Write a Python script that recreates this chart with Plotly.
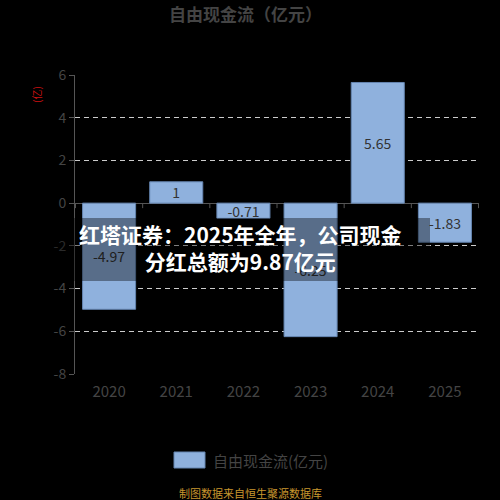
import plotly.graph_objects as go

years = ["2020", "2021", "2022", "2023", "2024", "2025"]
fcf = [-4.97, 1, -0.71, -6.25, 5.65, -1.83]
labels = ["-4.97", "1", "-0.71", "-6.25", "5.65", "-1.83"]
y_ticks = [6, 4, 2, 0, -2, -4, -6, -8]

FONT = "Noto Sans CJK SC"
BAR = "#8FB1DD"
EDGE = "#6585B0"

fig = go.Figure()
fig.add_trace(go.Bar(
    x=years, y=fcf, text=labels, textposition="inside",
    insidetextanchor="middle", constraintext="none", textangle=0,
    textfont=dict(family=FONT, size=14, color="#333333"),
    marker=dict(color=BAR, line=dict(color=EDGE, width=1)),
    name="自由现金流(亿元)", showlegend=False, hoverinfo="skip",
))

L, R, T, B = 75, 21, 75, 126
W = H = 500
pw, ph = W - L - R, H - T - B

def px(xp):
    return (xp - L) / pw

def py(yp):
    return (H - B - yp) / ph

shapes = []
# axis line at zero with boundary ticks
for i in range(len(years) + 1):
    shapes.append(dict(type="line", xref="x", yref="y", x0=i - 0.5, x1=i - 0.5,
                       ysizemode="pixel", yanchor=0, y0=0, y1=-5,
                       line=dict(color="#555555", width=1)))
# overlay band
shapes.append(dict(type="rect", xref="paper", yref="paper", x0=px(50), x1=px(430),
                   y0=py(281), y1=py(218), fillcolor="rgba(0,0,0,0.38)",
                   line=dict(width=0), layer="above"))
# legend swatch
shapes.append(dict(type="rect", xref="paper", yref="paper", x0=px(174), x1=px(205),
                   y0=py(468), y1=py(452), fillcolor=BAR,
                   line=dict(color=EDGE, width=1), layer="above"))

annotations = [
    dict(text="<b>自由现金流（亿元）</b>", xref="paper", yref="paper",
         x=px(245), y=py(14), showarrow=False, xanchor="center", yanchor="middle",
         font=dict(family=FONT, size=17, color="#444444")),
    dict(text="(亿)", xref="paper", yref="paper", x=px(37), y=py(95),
         showarrow=False, textangle=-90, xanchor="center", yanchor="middle",
         font=dict(family=FONT, size=10, color="#CC1111")),
    dict(text="自由现金流(亿元)", xref="paper", yref="paper", x=px(211), y=py(460),
         showarrow=False, xanchor="left", yanchor="middle",
         font=dict(family=FONT, size=15, color="#444444")),
    dict(text="制图数据来自恒生聚源数据库", xref="paper", yref="paper", x=px(250), y=py(493),
         showarrow=False, xanchor="center", yanchor="middle",
         font=dict(family=FONT, size=11, color="#C8962E")),
    dict(text="<b>红塔证券：2025年全年，公司现金<br>分红总额为9.87亿元</b>", xref="paper", yref="paper",
         x=px(240), y=py(247), showarrow=False, xanchor="center", yanchor="middle",
         align="center", font=dict(family=FONT, size=21, color="#FFFFFF")),
]

fig.update_layout(
    width=W, height=H, margin=dict(l=L, r=R, t=T, b=B),
    paper_bgcolor="#000000", plot_bgcolor="#000000",
    bargap=0.21, showlegend=False,
    uniformtext=dict(minsize=14, mode="show"),
    shapes=shapes, annotations=annotations,
    xaxis=dict(type="category", showgrid=False, showline=False, ticks="",
               ticklabelstandoff=7,
               tickfont=dict(family=FONT, size=15, color="#444444"), fixedrange=True),
    yaxis=dict(range=[-8, 6], tickvals=y_ticks, ticktext=[str(v) for v in y_ticks],
               showgrid=True, gridcolor="#CCCCCC", griddash="5px,4px", gridwidth=1,
               zeroline=True, zerolinecolor="#555555", zerolinewidth=1,
               showline=True, linecolor="#555555", linewidth=1,
               ticks="outside", ticklen=5, tickcolor="#555555",
               tickfont=dict(family=FONT, size=14, color="#444444"), fixedrange=True),
)

fig.write_html("out.html", config={"displayModeBar": False},
               post_script="document.body.style.margin='0';document.body.style.overflow='hidden';")
